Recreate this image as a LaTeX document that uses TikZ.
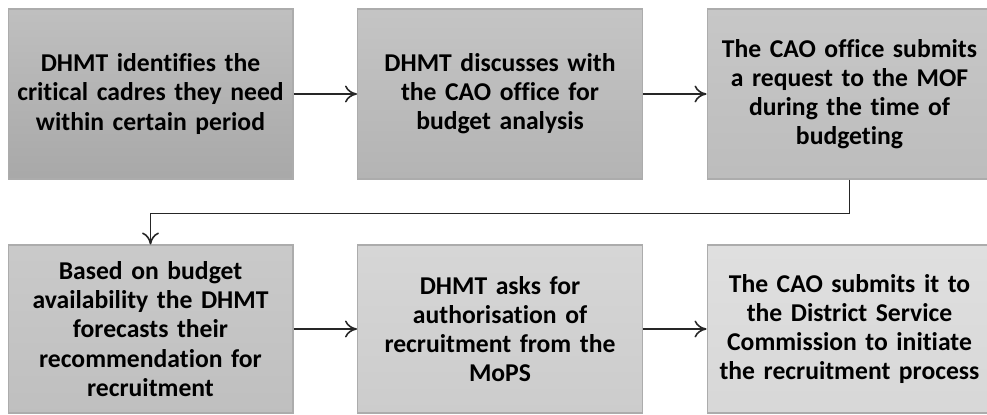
\documentclass[tikz,border=0pt]{standalone}
\usepackage{fontspec}
\setmainfont[Ligatures=NoCommon]{Carlito}
\usetikzlibrary{arrows.meta}

\tikzset{
  stage/.style={draw=gray!65, line width=0.6pt, minimum width=5.7cm, minimum height=3.4cm,
    align=center, text width=5.6cm, inner sep=0pt,
    font=\fontsize{14.6}{16.6}\selectfont\bfseries},
  flow/.style={-{To[length=2.4mm,width=3.4mm]}, line width=0.9pt, black!85}
}

\begin{document}
\begin{tikzpicture}[x=0.02cm,y=0.02cm]
	\useasboundingbox (0,0) rectangle (987,414);
	\clip (0,0) rectangle (987,414);

	% top row
	\node[stage, top color=gray!50, bottom color=gray!68] (identify) at (150.5,320)
		{DHMT identifies the\\critical cadres they need\\within certain period};
	\node[stage, top color=gray!46, bottom color=gray!59] (discuss) at (500,320)
		{DHMT discusses with\\the CAO office for\\budget analysis};
	\node[stage, top color=gray!44, bottom color=gray!52] (request) at (849.5,320)
		{The CAO office submits\\a request to the MOF\\during the time of\\budgeting};

	% bottom row
	\node[stage, minimum height=3.36cm, top color=gray!42, bottom color=gray!50] (forecast) at (150.5,85)
		{Based on budget\\availability the DHMT\\forecasts their\\recommendation for\\recruitment};
	\node[stage, minimum height=3.36cm, top color=gray!32, bottom color=gray!40] (authorise) at (500,85)
		{DHMT asks for\\authorisation of\\recruitment from the\\MoPS};
	\node[stage, minimum height=3.36cm, top color=gray!25, bottom color=gray!31] (submit) at (849.5,85)
		{The CAO submits it to\\the District Service\\Commission to initiate\\the recruitment process};

	\draw[flow] (identify) -- (discuss);
	\draw[flow] (discuss) -- (request);
	\draw[flow] (request.south) -- ++(0,-34) -| (forecast.north);
	\draw[flow] (forecast) -- (authorise);
	\draw[flow] (authorise) -- (submit);
\end{tikzpicture}
\end{document}
